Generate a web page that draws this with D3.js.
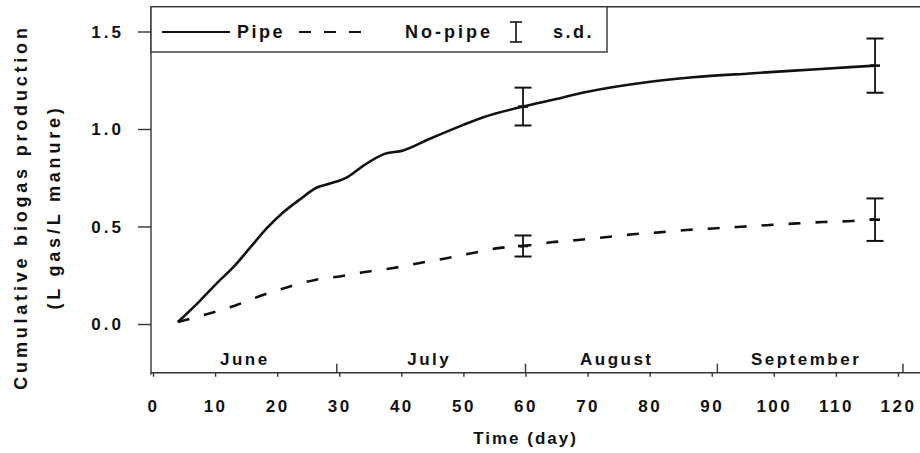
<!DOCTYPE html>
<html>
<head>
<meta charset="utf-8">
<script src="https://cdn.jsdelivr.net/npm/d3@7"></script>
<style>
  body { margin: 0; background: #fff; }
  text { font-family: "Liberation Sans", Arial, sans-serif; font-weight: bold; fill: #111; }
</style>
</head>
<body>
<div id="chart"></div>
<script>
////////////////////////////////////////////////////////////////////////
// Data

// Pipe series (cumulative biogas, L gas / L manure)
let pipeDays = [4, 7.6, 10.3, 12.9, 15.6, 18.3, 20.9, 23.7, 26.4, 28.5, 31.4, 33.8, 37.1,
  40.3, 44.6, 49.9, 53.2, 59.6, 64.4, 69.8, 79.5, 87, 96.1, 106.3, 116.3];
let pipeValues = [0.01, 0.12, 0.21, 0.29, 0.39, 0.49, 0.57, 0.64, 0.70, 0.72, 0.755, 0.81, 0.87,
  0.89, 0.95, 1.02, 1.06, 1.115, 1.15, 1.19, 1.24, 1.265, 1.285, 1.305, 1.325];

// No-pipe series
let noPipeDays = [4, 9.5, 13.7, 17.7, 21.8, 26.1, 30.3, 34.4, 38.7, 43, 47.3, 51.5, 55.3, 59.6,
  64.2, 68.5, 72.8, 77.3, 81.6, 85.9, 90.2, 94.8, 99.4, 103.7, 107.9, 112.5, 116.3];
let noPipeValues = [0.01, 0.058, 0.10, 0.149, 0.19, 0.226, 0.245, 0.268, 0.287, 0.313, 0.337, 0.364,
  0.388, 0.40, 0.419, 0.431, 0.445, 0.46, 0.47, 0.482, 0.49, 0.499, 0.508, 0.516, 0.523, 0.528, 0.537];

// Error bars (s.d.)
let sdDays = [59.6, 116.3];
let pipeMean = [1.115, 1.325];
let pipeSd = [0.097, 0.139];
let noPipeMean = [0.40, 0.535];
let noPipeSd = [0.054, 0.109];

// Axis ticks and month labels
let xTicks = [0, 10, 20, 30, 40, 50, 60, 70, 80, 90, 100, 110, 120];
let yTicks = [0.0, 0.5, 1.0, 1.5];
let monthBounds = [29.6, 60, 90.9, 120.8];
let monthNames = ["June", "July", "August", "September"];
let monthCenters = [14.8, 44.5, 74.7, 105.2];

////////////////////////////////////////////////////////////////////////
// Layout

let width = 920;
let height = 453;

let svg = d3.select("#chart")
  .append("svg")
  .attr("width", width)
  .attr("height", height);

let xScale = d3.scaleLinear().domain([0, 120]).range([153, 898]);
let yScale = d3.scaleLinear().domain([0, 1.5]).range([324, 31.5]);

let xMin = xScale(0) - 2;
let yTop = yScale(1.627);
let yBottom = yScale(-0.25);

let axisColor = "#333";

// frame: top line and left/bottom axes
svg.append("line")
  .attr("x1", xMin).attr("x2", width + 5)
  .attr("y1", yTop).attr("y2", yTop)
  .attr("stroke", axisColor).attr("stroke-width", 1.4);

// y axis
let yAxis = d3.axisLeft(yScale)
  .tickValues(yTicks)
  .tickSize(13)
  .tickPadding(14)
  .tickFormat(d3.format(".1f"));

let gy = svg.append("g")
  .attr("transform", `translate(${xMin},0)`)
  .call(yAxis);
gy.select(".domain").remove();
gy.selectAll(".tick line").attr("stroke", axisColor).attr("stroke-width", 1.4);
gy.selectAll(".tick text")
  .style("font-size", "17px")
  .style("letter-spacing", "3px")
  .attr("dy", "0.35em");

svg.append("line")
  .attr("x1", xMin).attr("x2", xMin)
  .attr("y1", yTop).attr("y2", yBottom + 2)
  .attr("stroke", axisColor).attr("stroke-width", 1.4);

// x axis
let xAxis = d3.axisBottom(xScale)
  .tickValues(xTicks)
  .tickSize(4)
  .tickPadding(23);

let gx = svg.append("g")
  .attr("transform", `translate(0,${yBottom})`)
  .call(xAxis);
gx.select(".domain").remove();
gx.selectAll(".tick line").attr("stroke", axisColor).attr("stroke-width", 1.4);
gx.selectAll(".tick text")
  .style("font-size", "17px")
  .style("letter-spacing", "2.5px");

svg.append("line")
  .attr("x1", xMin).attr("x2", width + 5)
  .attr("y1", yBottom).attr("y2", yBottom)
  .attr("stroke", axisColor).attr("stroke-width", 1.4);

// month boundary ticks (pointing up)
svg.selectAll(".month-tick")
  .data(monthBounds)
  .join("line")
  .attr("class", "month-tick")
  .attr("x1", d => xScale(d)).attr("x2", d => xScale(d))
  .attr("y1", yBottom).attr("y2", yBottom - 9)
  .attr("stroke", axisColor).attr("stroke-width", 1.4);

svg.selectAll(".month-label")
  .data(monthNames)
  .join("text")
  .attr("class", "month-label")
  .attr("x", (d, i) => xScale(monthCenters[i]))
  .attr("y", 365)
  .attr("text-anchor", "middle")
  .style("font-size", "17px")
  .style("letter-spacing", "2.5px")
  .text(d => d);

// axis titles
svg.append("text")
  .attr("x", xScale(60))
  .attr("y", 444)
  .attr("text-anchor", "middle")
  .style("font-size", "17px")
  .style("letter-spacing", "2px")
  .text("Time (day)");

svg.append("text")
  .attr("transform", "translate(27,207) rotate(-90)")
  .attr("text-anchor", "middle")
  .style("font-size", "18px")
  .style("letter-spacing", "3.8px")
  .text("Cumulative biogas production");

svg.append("text")
  .attr("transform", "translate(60,207) rotate(-90)")
  .attr("text-anchor", "middle")
  .style("font-size", "18px")
  .style("letter-spacing", "3.8px")
  .text("(L gas/L manure)");

////////////////////////////////////////////////////////////////////////
// Series

let line = d3.line()
  .x(d => xScale(d[0]))
  .y(d => yScale(d[1]))
  .curve(d3.curveMonotoneX);

svg.append("path")
  .datum(d3.zip(pipeDays, pipeValues))
  .attr("fill", "none")
  .attr("stroke", "#111")
  .attr("stroke-width", 2.6)
  .attr("d", line);

svg.append("path")
  .datum(d3.zip(noPipeDays, noPipeValues))
  .attr("fill", "none")
  .attr("stroke", "#111")
  .attr("stroke-width", 2.6)
  .attr("stroke-dasharray", "12,15")
  .attr("d", line);

// error bars
function drawErrorBars(means, sds) {
  let g = svg.append("g");
  let data = d3.zip(sdDays, means, sds);
  let capW = 8.5;
  g.selectAll(".stem")
    .data(data)
    .join("line")
    .attr("x1", d => xScale(d[0])).attr("x2", d => xScale(d[0]))
    .attr("y1", d => yScale(d[1] + d[2])).attr("y2", d => yScale(d[1] - d[2]))
    .attr("stroke", "#111").attr("stroke-width", 1.8);
  g.selectAll(".cap-top")
    .data(data)
    .join("line")
    .attr("x1", d => xScale(d[0]) - capW).attr("x2", d => xScale(d[0]) + capW)
    .attr("y1", d => yScale(d[1] + d[2])).attr("y2", d => yScale(d[1] + d[2]))
    .attr("stroke", "#111").attr("stroke-width", 2);
  g.selectAll(".cap-bottom")
    .data(data)
    .join("line")
    .attr("x1", d => xScale(d[0]) - capW).attr("x2", d => xScale(d[0]) + capW)
    .attr("y1", d => yScale(d[1] - d[2])).attr("y2", d => yScale(d[1] - d[2]))
    .attr("stroke", "#111").attr("stroke-width", 2);
  g.selectAll(".mid")
    .data(data)
    .join("line")
    .attr("x1", d => xScale(d[0]) - 5).attr("x2", d => xScale(d[0]) + 5)
    .attr("y1", d => yScale(d[1])).attr("y2", d => yScale(d[1]))
    .attr("stroke", "#111").attr("stroke-width", 2.6);
}

drawErrorBars(pipeMean, pipeSd);
drawErrorBars(noPipeMean, noPipeSd);

////////////////////////////////////////////////////////////////////////
// Legend box in the top-left corner

let legend = svg.append("g");
legend.append("rect")
  .attr("x", xMin).attr("y", yTop)
  .attr("width", 607 - xMin).attr("height", 52 - yTop)
  .attr("fill", "#fff")
  .attr("stroke", axisColor).attr("stroke-width", 1.4);

let legY = 32;
legend.append("line")
  .attr("x1", 162).attr("x2", 230).attr("y1", legY).attr("y2", legY)
  .attr("stroke", "#111").attr("stroke-width", 2);
legend.append("text")
  .attr("x", 237).attr("y", legY + 6)
  .style("font-size", "18px").style("letter-spacing", "2.5px")
  .text("Pipe");

legend.append("line")
  .attr("x1", 299).attr("x2", 361).attr("y1", legY).attr("y2", legY)
  .attr("stroke", "#111").attr("stroke-width", 2)
  .attr("stroke-dasharray", "12,13");
legend.append("text")
  .attr("x", 405).attr("y", legY + 6)
  .style("font-size", "18px").style("letter-spacing", "3px")
  .text("No-pipe");

// s.d. symbol
legend.append("line")
  .attr("x1", 516).attr("x2", 516).attr("y1", 22).attr("y2", 42)
  .attr("stroke", "#111").attr("stroke-width", 1.6);
legend.append("line")
  .attr("x1", 510).attr("x2", 522).attr("y1", 22).attr("y2", 22)
  .attr("stroke", "#111").attr("stroke-width", 1.6);
legend.append("line")
  .attr("x1", 510).attr("x2", 522).attr("y1", 42).attr("y2", 42)
  .attr("stroke", "#111").attr("stroke-width", 1.6);
legend.append("text")
  .attr("x", 553).attr("y", legY + 6)
  .style("font-size", "18px").style("letter-spacing", "2.5px")
  .text("s.d.");
</script>
</body>
</html>
